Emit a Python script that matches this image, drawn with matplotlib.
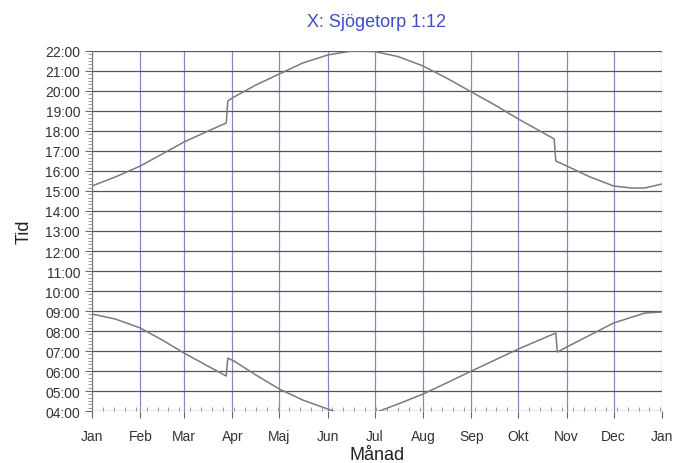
import matplotlib
matplotlib.use("Agg")
from matplotlib import pyplot as plt
from matplotlib.ticker import FuncFormatter, MultipleLocator

# dag på året (0 = 1 jan) och klockslag i timmar
solned_dag = [0, 15, 31, 45, 59, 73, 86, 87, 91, 105, 120, 135, 151, 165, 172, 181, 196, 212, 227, 243, 258, 273, 288, 296, 297, 304, 319, 334, 345, 354, 365]
solned_tid = [15.25, 15.7, 16.25, 16.85, 17.45, 17.95, 18.4, 19.5, 19.7, 20.3, 20.85, 21.4, 21.8, 21.98, 22.0, 21.97, 21.72, 21.25, 20.65, 19.95, 19.3, 18.6, 17.95, 17.6, 16.5, 16.25, 15.7, 15.25, 15.15, 15.15, 15.35]

solupp_dag = [0, 15, 31, 45, 59, 73, 86, 87, 91, 105, 120, 135, 151, 165, 172, 181, 184, 196, 212, 227, 243, 258, 273, 288, 297, 298, 304, 319, 334, 354, 365]
solupp_tid = [8.85, 8.6, 8.15, 7.55, 6.9, 6.3, 5.75, 6.65, 6.5, 5.8, 5.1, 4.55, 4.1, 3.7, 3.6, 3.85, 4.0, 4.35, 4.85, 5.4, 6.0, 6.55, 7.1, 7.6, 7.9, 6.95, 7.2, 7.8, 8.4, 8.9, 8.95]

manader = ["Jan", "Feb", "Mar", "Apr", "Maj", "Jun", "Jul", "Aug", "Sep", "Okt", "Nov", "Dec", "Jan"]
manad_start = [0, 31, 59, 90, 120, 151, 181, 212, 243, 273, 304, 334, 365]

plt.rcParams['font.family'] = ['Liberation Sans', 'DejaVu Sans']

fig = plt.figure(figsize=(6.86, 4.64), dpi=100)
ax = fig.add_axes([0.134, 0.112, 0.831, 0.776])

ax.plot(solned_dag, solned_tid, color="#7a7a7a", lw=1.1)
ax.plot(solupp_dag, solupp_tid, color="#7a7a7a", lw=1.1)

ax.set_xlim(0, 365)
ax.set_ylim(4, 22)
ax.set_xticks(manad_start)
ax.set_xticklabels(manader, fontsize=10, color="#333333")
ax.xaxis.set_minor_locator(MultipleLocator(7))
ax.yaxis.set_major_locator(MultipleLocator(1))
ax.yaxis.set_minor_locator(MultipleLocator(1 / 6))
ax.yaxis.set_major_formatter(FuncFormatter(lambda v, p: "%02d:00" % int(round(v))))
ax.tick_params(axis='y', labelsize=10, labelcolor="#333333", length=5, color="#666666")
ax.tick_params(axis='x', length=5, color="#666666", pad=8)
ax.tick_params(axis='y', which='minor', length=3, color="#888888")
ax.tick_params(axis='x', which='minor', direction='in', length=3, color="#888888")

ax.grid(axis='y', which='major', color="#55535f", lw=0.9)
ax.grid(axis='x', which='major', color="#9582c4", lw=0.9)
ax.set_axisbelow(True)
for s in ax.spines.values():
    s.set_visible(False)
ax.spines['left'].set_visible(True)
ax.spines['left'].set_color("#777777")

ax.set_title("X: Sjögetorp 1:12", color="#3d4fc4", fontsize=13, pad=18)
ax.set_ylabel("Tid", fontsize=13, color="#222222", labelpad=9)
ax.set_xlabel("Månad", fontsize=13, color="#222222", labelpad=2)

fig.savefig("out.png", dpi=100)
